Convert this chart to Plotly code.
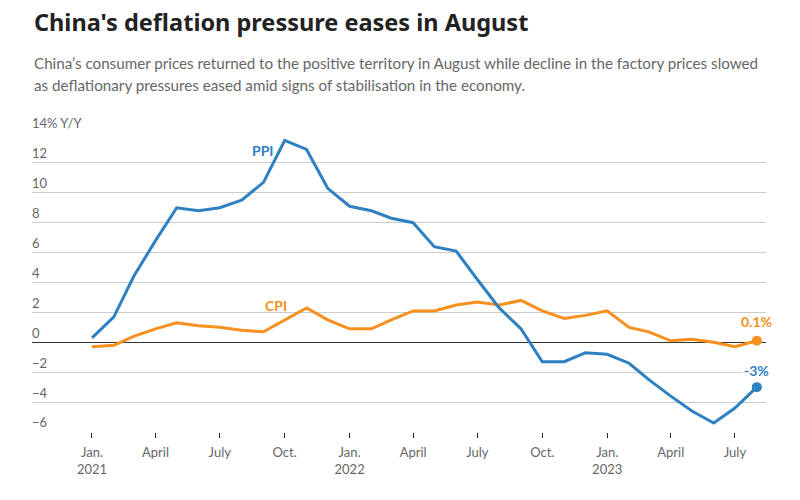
import plotly.graph_objects as go

months = [f"{y}-{m:02d}-01" for y in (2021, 2022, 2023) for m in range(1, 13)][:32]

cpi = [-0.3, -0.2, 0.4, 0.9, 1.3, 1.1, 1.0, 0.8, 0.7, 1.5, 2.3, 1.5,
       0.9, 0.9, 1.5, 2.1, 2.1, 2.5, 2.7, 2.5, 2.8, 2.1, 1.6, 1.8,
       2.1, 1.0, 0.7, 0.1, 0.2, 0.0, -0.3, 0.1]
ppi = [0.3, 1.7, 4.4, 6.8, 9.0, 8.8, 9.0, 9.5, 10.7, 13.5, 12.9, 10.3,
       9.1, 8.8, 8.3, 8.0, 6.4, 6.1, 4.2, 2.3, 0.9, -1.3, -1.3, -0.7,
       -0.8, -1.4, -2.5, -3.6, -4.6, -5.4, -4.4, -3.0]

y_ticks = [-6, -4, -2, 0, 2, 4, 6, 8, 10, 12, 14]
y_ticktext = ["\u22126", "\u22124", "\u22122", "0", "2", "4", "6", "8", "10", "12", "14% Y/Y"]

x_ticks = ["2021-01-01", "2021-04-01", "2021-07-01", "2021-10-01",
           "2022-01-01", "2022-04-01", "2022-07-01", "2022-10-01",
           "2023-01-01", "2023-04-01", "2023-07-01"]
x_ticktext = ["Jan.<br>2021", "April", "July", "Oct.",
              "Jan.<br>2022", "April", "July", "Oct.",
              "Jan.<br>2023", "April", "July"]

title = "China's deflation pressure eases in August"
subtitle_lines = [
    "China\u2019s consumer prices returned to the positive territory in August while decline in the factory prices slowed",
    "as deflationary pressures eased amid signs of stabilisation in the economy.",
]

BLUE = "#2f80c3"
ORANGE = "#f7901e"
FONT = "Lato"

TOP, BOTTOM = 133.3, 431.7
def py(p):
    return (BOTTOM - p) / (BOTTOM - TOP)

fig = go.Figure()
fig.add_trace(go.Scatter(x=months, y=cpi, mode="lines", line=dict(color=ORANGE, width=3),
                         hoverinfo="skip", showlegend=False))
fig.add_trace(go.Scatter(x=months, y=ppi, mode="lines", line=dict(color=BLUE, width=3),
                         hoverinfo="skip", showlegend=False))
fig.add_trace(go.Scatter(x=[months[-1]], y=[cpi[-1]], mode="markers",
                         marker=dict(color=ORANGE, size=10), showlegend=False, hoverinfo="skip"))
fig.add_trace(go.Scatter(x=[months[-1]], y=[ppi[-1]], mode="markers",
                         marker=dict(color=BLUE, size=10), showlegend=False, hoverinfo="skip"))

annotations = [
    dict(text="<b>" + title + "</b>", xref="paper", yref="paper",
         x=0, y=py(23), xanchor="left", yanchor="middle", showarrow=False,
         font=dict(family="Noto Sans", size=23.5, color="#222222")),
]
for i, line in enumerate(subtitle_lines):
    annotations.append(dict(text=line, xref="paper", yref="paper", x=0, y=py(63 + 22 * i),
                            xanchor="left", yanchor="middle", align="left", showarrow=False,
                            font=dict(family=FONT, size=15.2, color="#666666")))
annotations += [
    dict(text="<b>PPI</b>", x="2021-08-30", y=12.8, showarrow=False,
         font=dict(family=FONT, size=14, color=BLUE)),
    dict(text="<b>CPI</b>", x="2021-09-19", y=2.45, showarrow=False,
         font=dict(family=FONT, size=14, color=ORANGE)),
    dict(text="<b>0.1%</b>", x=months[-1], y=1.4, showarrow=False, xanchor="center",
         font=dict(family=FONT, size=14, color=ORANGE)),
    dict(text="<b>-3%</b>", x=months[-1], y=-1.9, showarrow=False, xanchor="center",
         bgcolor="white", font=dict(family=FONT, size=14, color=BLUE)),
]

fig.update_layout(
    width=800, height=500,
    margin=dict(l=32, r=34, t=133, b=68),
    paper_bgcolor="white", plot_bgcolor="white",
    font=dict(family=FONT, color="#666666", size=13),
    xaxis=dict(type="date", range=["2020-10-08", "2023-08-14"], automargin=False,
               tickvals=x_ticks, ticktext=x_ticktext, showgrid=False,
               ticks="outside", ticklen=5, tickcolor="#222222", tickwidth=1,
               showline=False, zeroline=False, ticklabelstandoff=3,
               tickfont=dict(size=13, color="#666666")),
    yaxis=dict(range=[-6, 14], tickvals=y_ticks, ticktext=y_ticktext, automargin=False,
               showgrid=True, gridcolor="#cccccc", gridwidth=1,
               zeroline=True, zerolinecolor="#333333", zerolinewidth=1,
               ticklabelposition="inside top", ticklabeloverflow="allow",
               ticklabelstandoff=-3,
               tickfont=dict(size=13, color="#666666"), showline=False, ticks=""),
    annotations=annotations,
)

fig.write_html("out.html", config={"displayModeBar": False},
               post_script="document.body.style.margin='0';")
